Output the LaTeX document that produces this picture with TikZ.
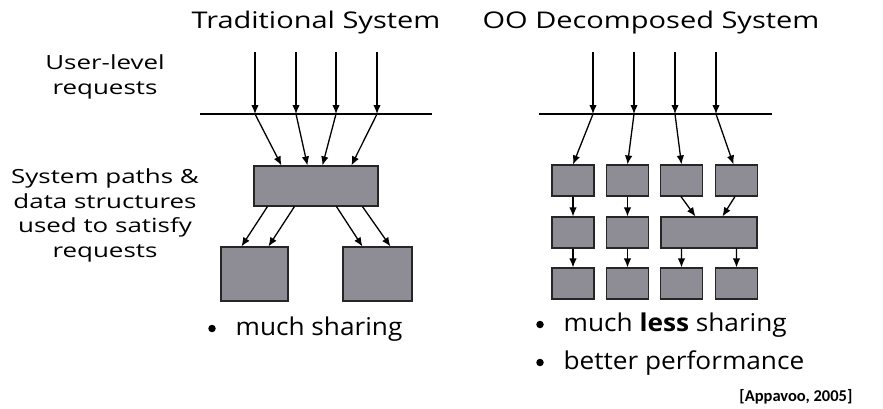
\documentclass[tikz,border=0pt]{standalone}
\usepackage{fontspec}
\setmainfont{Open Sans}
\newfontfamily\citefont{Carlito}
\usetikzlibrary{arrows.meta}

\definecolor{boxgray}{HTML}{8E8D96}
\tikzset{
  blk/.style={draw=black!85, fill=boxgray, line width=1.1pt, inner sep=0pt},
  bus/.style={line width=2.6pt},
  ttl/.style={anchor=base, font=\addfontfeature{FakeStretch=1.26}\fontsize{23}{27}\selectfont},
  lbl/.style={align=center, anchor=base, font=\addfontfeature{FakeStretch=1.33}\fontsize{19.5}{24.5}\selectfont},
  bul/.style={circle, fill=black, inner sep=0pt, minimum size=7.5pt},
  itm/.style={anchor=base west, inner sep=0pt, font=\addfontfeature{FakeStretch=1.07}\fontsize{24.5}{28}\selectfont}
}

\begin{document}
\begin{tikzpicture}[x=1pt, y=-1pt, line width=1.3pt, >={Latex[length=9pt,width=7.5pt]}]
    \useasboundingbox (0,0) rectangle (883,408);
    % titles
    \node [ttl] (ttrad) at (316,28) {Traditional System};
    \node [ttl] (too) at (651,28) {OO Decomposed System};
    % row labels
    \node [lbl] (lreq) at (105,94) {User-level\\requests};
    \node [lbl] (lpath) at (105,257) {System paths \&\\data structures\\used to satisfy\\requests};
    % traditional: requests
    \coordinate (tbw) at (200,114);
    \coordinate (tbe) at (432,114);
    \draw [bus] (tbw) -- (tbe);
    \foreach \i/\x in {1/255, 2/296, 3/336, 4/377} {
      \coordinate (tu\i) at (\x,52);
      \coordinate (tl\i) at (\x,114);
      \draw [->] (tu\i) -- (tl\i);
    }
    % traditional: boxes
    \node [blk, minimum width=124pt, minimum height=40pt] (big) at (316,186) {};
    \node [blk, minimum width=67pt, minimum height=54pt] (lowl) at (254.5,274) {};
    \node [blk, minimum width=69pt, minimum height=54pt] (lowr) at (377.5,274) {};
    \draw [->] (tl1) -- ([xshift=28pt]big.north west);
    \draw [->] (tl2) -- ([xshift=54pt]big.north west);
    \draw [->] (tl3) -- ([xshift=69pt]big.north west);
    \draw [->] (tl4) -- ([xshift=98pt]big.north west);
    \draw [->] ([xshift=14pt]big.south west) -- ([xshift=21pt]lowl.north west);
    \draw [->] ([xshift=41pt]big.south west) -- ([xshift=48pt]lowl.north west);
    \draw [->] ([xshift=83pt]big.south west) -- ([xshift=20pt]lowr.north west);
    \draw [->] ([xshift=109pt]big.south west) -- ([xshift=48pt]lowr.north west);
    % oo: requests
    \coordinate (obw) at (539,114);
    \coordinate (obe) at (772,114);
    \draw [bus] (obw) -- (obe);
    \foreach \i/\x in {1/593, 2/634, 3/675, 4/716} {
      \coordinate (ou\i) at (\x,52);
      \coordinate (ol\i) at (\x,114);
      \draw [->] (ou\i) -- (ol\i);
    }
    % oo: boxes
    \foreach \i/\x in {1/573, 2/627.5, 3/681.5, 4/736.5} {
      \node [blk, minimum width=42pt, minimum height=31pt] (a\i) at (\x,180.5) {};
      \node [blk, minimum width=42pt, minimum height=31pt] (c\i) at (\x,283.5) {};
    }
    \node [blk, minimum width=42pt, minimum height=31pt] (b1) at (573,232.5) {};
    \node [blk, minimum width=42pt, minimum height=31pt] (b2) at (627.5,232.5) {};
    \node [blk, minimum width=96pt, minimum height=31pt] (bw) at (709,232.5) {};
    \draw [->] (ol1) -- (a1.north);
    \draw [->] (ol2) -- (a2.north);
    \draw [->] (ol3) -- (a3.north);
    \draw [->] (ol4) -- ([xshift=-3pt]a4.north);
    \draw [->] (a1) -- (b1);
    \draw [->] (a2) -- (b2);
    \draw [->] ([xshift=21pt]a3.south west) -- ([xshift=35pt]bw.north west);
    \draw [->] ([xshift=20pt]a4.south west) -- ([xshift=62pt]bw.north west);
    \draw [->] (b1) -- (c1);
    \draw [->] (b2) -- (c2);
    \draw [->] ([xshift=21pt]bw.south west) -- (c3.north);
    \draw [->] ([xshift=76pt]bw.south west) -- (c4.north);
    % bullets
    \node [bul] (bt1) at (212,328.5) {};
    \node [itm] (it1) at (235,335) {much sharing};
    \node [bul] (bo1) at (540,324.5) {};
    \node [itm] (io1) at (563,331) {much \textbf{less} sharing};
    \node [bul] (bo2) at (540,362.5) {};
    \node [itm] (io2) at (563,369) {better performance};
    % source
    \node [anchor=base east, inner sep=0pt, font=\citefont\bfseries\fontsize{16.5}{19}\selectfont] (src) at (853,401) {[Appavoo, 2005]};
\end{tikzpicture}
\end{document}
